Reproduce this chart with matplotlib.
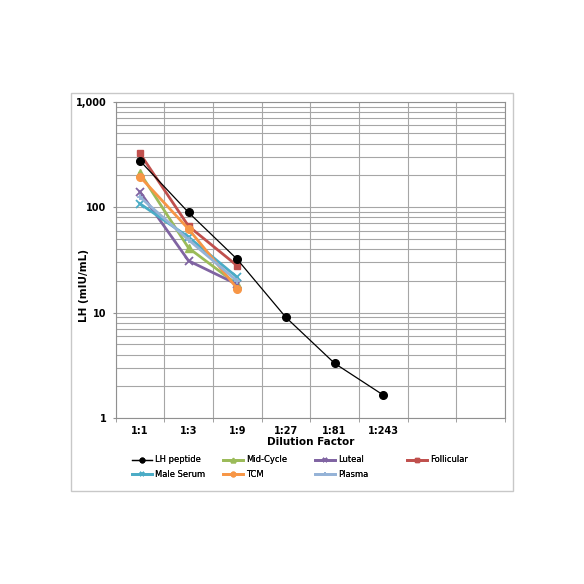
import matplotlib
matplotlib.use("Agg")
import matplotlib.pyplot as plt
from matplotlib.patches import Rectangle
from matplotlib.ticker import FixedLocator, FuncFormatter, LogLocator, NullFormatter

# ---- data ----
categories = ["1:1", "1:3", "1:9", "1:27", "1:81", "1:243", "", ""]
lh_peptide = [276, 89, 32, 9.0, 3.3, 1.65]
mid_cycle = [212, 41, 18.5]
luteal = [140, 31, 18.5]
follicular = [324, 66, 27.8]
male_serum = [108, 52, 21.6]
tcm = [195, 62, 16.9]
plasma = [125, 49, 19.9]

series = [
    ("LH peptide", lh_peptide, "black", "o", 0.9, 5.5),
    ("Mid-Cycle", mid_cycle, "#9BBB59", "^", 2.0, 5.5),
    ("Luteal", luteal, "#8064A2", "x", 2.0, 6),
    ("Follicular", follicular, "#C0504D", "s", 2.0, 5),
    ("Male Serum", male_serum, "#4BACC6", "x", 2.0, 6),
    ("TCM", tcm, "#F79646", "o", 2.0, 5.5),
    ("Plasma", plasma, "#95B3D7", "+", 2.0, 5),
]
draw_order = ["Follicular", "Mid-Cycle", "Luteal", "Male Serum", "TCM", "Plasma", "LH peptide"]

fig = plt.figure(figsize=(5.84, 5.84), dpi=100)
fig.patch.set_facecolor("white")

# chart border
fig.patches.append(Rectangle((70.7 / 584, 1 - 490.7 / 584), (513 - 70.7) / 584, (490.7 - 92.7) / 584,
                             transform=fig.transFigure, fill=False, edgecolor="#c8c8c8", lw=1.0))

left, right, top, bottom = 115.5 / 584, 505 / 584, 1 - 101.7 / 584, 1 - 418 / 584
ax = fig.add_axes([left, bottom, right - left, top - bottom])
ax.set_yscale("log")
ax.set_ylim(1, 1000)
ax.set_xlim(-0.5, len(categories) - 0.5)

handles = {}
lookup = {s[0]: s for s in series}
for z, name in enumerate(draw_order):
    _, vals, col, mk, lw, ms = lookup[name]
    x = list(range(len(vals)))
    mew = 1.3 if mk in ("x", "+") else 1.0
    h, = ax.plot(x, vals, color=col, marker=mk, lw=lw, ms=ms, mew=mew,
                 markeredgecolor=col, markerfacecolor=col, zorder=3 + z, label=name)
    handles[name] = h

# grid
ax.xaxis.set_major_locator(FixedLocator(range(len(categories))))
ax.xaxis.set_minor_locator(FixedLocator([i - 0.5 for i in range(len(categories) + 1)]))
ax.set_xticklabels(categories, fontsize=7, fontweight="bold")
ax.tick_params(axis="x", which="major", length=0, pad=5.5)
ax.tick_params(axis="x", which="minor", length=3, color="#909090", direction="out")
ax.grid(True, axis="x", which="minor", color="#a6a6a6", lw=0.8)

ax.yaxis.set_major_locator(LogLocator(base=10, numticks=10))
ax.yaxis.set_minor_locator(LogLocator(base=10, subs=range(2, 10), numticks=30))
ax.yaxis.set_major_formatter(FuncFormatter(lambda v, p: f"{int(round(v)):,}"))
ax.yaxis.set_minor_formatter(NullFormatter())
ax.tick_params(axis="y", which="major", length=2.5, color="#909090", labelsize=7, pad=4)
ax.tick_params(axis="y", which="minor", length=0)
ax.grid(True, axis="y", which="both", color="#a6a6a6", lw=0.8)
ax.set_axisbelow(True)
for lbl in ax.get_yticklabels():
    lbl.set_fontweight("bold")

for sp in ax.spines.values():
    sp.set_color("#909090")
    sp.set_linewidth(0.8)

ax.set_xlabel("Dilution Factor", fontsize=7.5, fontweight="bold", labelpad=1)
ax.set_ylabel("LH (mIU/mL)", fontsize=7.5, fontweight="bold")
ax.yaxis.set_label_coords((89 - 115.5) / 389.5, (418 - 285) / 316.3)

# legend in 4 equal-width columns
columns = [["LH peptide", "Male Serum"], ["Mid-Cycle", "TCM"], ["Luteal", "Plasma"], ["Follicular"]]
col_x = [131.7, 223, 315, 406.7]
for cx, names in zip(col_x, columns):
    leg = fig.legend([handles[n] for n in names], names, loc="upper left",
                     bbox_to_anchor=(cx / 584, 1 - 455.5 / 584), frameon=False,
                     fontsize=6, handlelength=2.4, handletextpad=0.4, labelspacing=0.62,
                     borderpad=0, borderaxespad=0, markerscale=0.6)
    fig.add_artist(leg)

fig.savefig("out.png", dpi=100, facecolor="white")
